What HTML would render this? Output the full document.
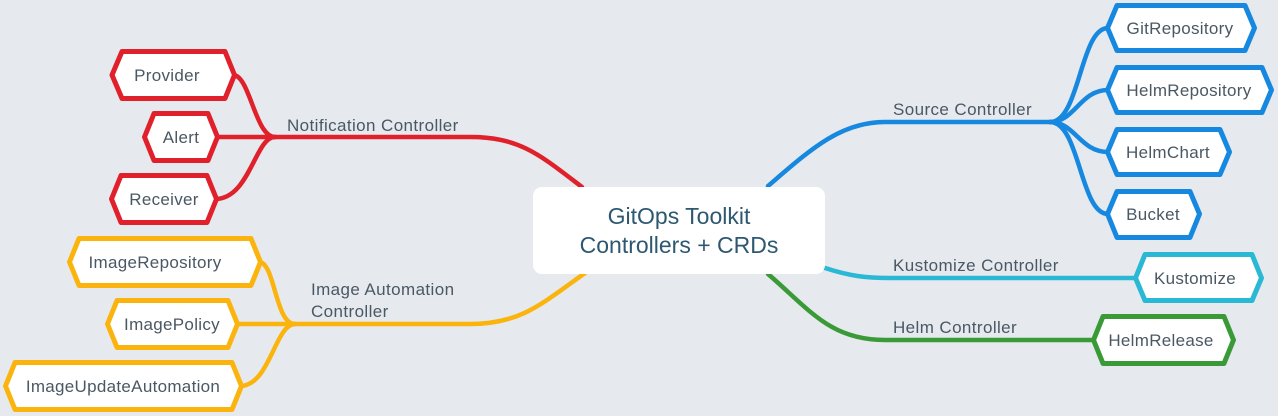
<!DOCTYPE html>
<html><head><meta charset="utf-8"><style>
html,body{margin:0;padding:0;background:#e6eaee;}
svg{display:block}
text{font-family:"Liberation Sans",Arial,sans-serif;fill:#4a5864;}
</style></head><body>
<svg width="1278" height="416" viewBox="0 0 1278 416" xmlns="http://www.w3.org/2000/svg">
<rect width="1278" height="416" fill="#e6eaee"/>
<g fill="none" stroke-width="4.5" stroke-linecap="round">
<g stroke="#e0202a">
<path d="M582 187 C540 155 520 137 470 137 L275 137"/>
<path d="M275 137 C255 137 250 75 233 75"/>
<path d="M275 137 L216 137"/>
<path d="M275 137 C255 137 250 199 215 199"/>
</g>
<g stroke="#1688e0">
<path d="M768 186 C810 150 840 122 885 122 L1050 122"/>
<path d="M1050 122 C1080 122 1080 28 1108 28"/>
<path d="M1050 122 C1075 122 1080 90 1108 90"/>
<path d="M1050 122 C1075 122 1080 152 1108 152"/>
<path d="M1050 122 C1080 122 1080 214 1108 214"/>
</g>
<path stroke="#2bb8d4" d="M825 268 C850 276 865 278 890 278 L1136 278"/>
<path stroke="#3a9a38" d="M768 274 C810 310 830 340 885 340 L1094 340"/>
<g stroke="#fbb40e">
<path d="M585 273 C540 305 520 324 470 324 L295 324"/>
<path d="M295 324 C275 324 275 262 259 262"/>
<path d="M295 324 L236 324"/>
<path d="M295 324 C275 324 270 386 240 386"/>
</g>
</g>
<rect x="533" y="187" width="292" height="87" rx="9" fill="#fff"/>
<text x="679" y="224" font-size="23" text-anchor="middle" style="fill:#2e5870">GitOps Toolkit</text>
<text x="679" y="253" font-size="23" text-anchor="middle" style="fill:#2e5870">Controllers + CRDs</text>
<g font-size="17" letter-spacing="0.4">
<text x="287" y="131">Notification Controller</text>
<text x="311" y="295">Image Automation</text>
<text x="311" y="317">Controller</text>
<text x="893" y="115">Source Controller</text>
<text x="893" y="271">Kustomize Controller</text>
<text x="893" y="333">Helm Controller</text>
</g>
<g stroke-width="5" fill="#fff" stroke-linejoin="round">
<g stroke="#e0202a">
<path d="M112 75 L122 51.5 L225 51.5 L234.5 75 L225 98.5 L122 98.5 Z"/>
<path d="M144.5 137 L154 113.5 L208 113.5 L217.5 137 L208 160.5 L154 160.5 Z"/>
<path d="M111.5 199 L121 175.5 L207 175.5 L216.5 199 L207 222.5 L121 222.5 Z"/>
</g>
<g stroke="#fbb40e">
<path d="M69.5 262 L79 238.5 L251 238.5 L260.5 262 L251 285.5 L79 285.5 Z"/>
<path d="M107.5 324 L117 300.5 L228 300.5 L237.5 324 L228 347.5 L117 347.5 Z"/>
<path d="M5.5 386 L15 362.5 L232 362.5 L241.5 386 L232 409.5 L15 409.5 Z"/>
</g>
<g stroke="#1688e0">
<path d="M1107.5 28 L1117 5.5 L1245 5.5 L1254.5 28 L1245 50.5 L1117 50.5 Z"/>
<path d="M1107.5 90 L1117 67.5 L1262 67.5 L1271.5 90 L1262 112.5 L1117 112.5 Z"/>
<path d="M1107.5 152 L1117 129.5 L1220 129.5 L1229.5 152 L1220 174.5 L1117 174.5 Z"/>
<path d="M1107.5 214 L1117 191.5 L1190 191.5 L1199.5 214 L1190 237.5 L1117 237.5 Z"/>
</g>
<path stroke="#2bb8d4" d="M1135.5 278 L1145 254.5 L1252 254.5 L1261.5 278 L1252 300.5 L1145 300.5 Z"/>
<path stroke="#3a9a38" d="M1093.5 340 L1103 316.5 L1224 316.5 L1233.5 340 L1224 363.5 L1103 363.5 Z"/>
</g>
<g font-size="17" letter-spacing="0.3" text-anchor="middle">
<text x="167" y="81">Provider</text>
<text x="181" y="143">Alert</text>
<text x="164" y="205">Receiver</text>
<text x="155" y="268">ImageRepository</text>
<text x="172" y="330">ImagePolicy</text>
<text x="123" y="392">ImageUpdateAutomation</text>
<text x="1180" y="34">GitRepository</text>
<text x="1189" y="96">HelmRepository</text>
<text x="1168" y="158">HelmChart</text>
<text x="1153" y="220">Bucket</text>
<text x="1195" y="284">Kustomize</text>
<text x="1161" y="346">HelmRelease</text>
</g>
</svg>
</body></html>
